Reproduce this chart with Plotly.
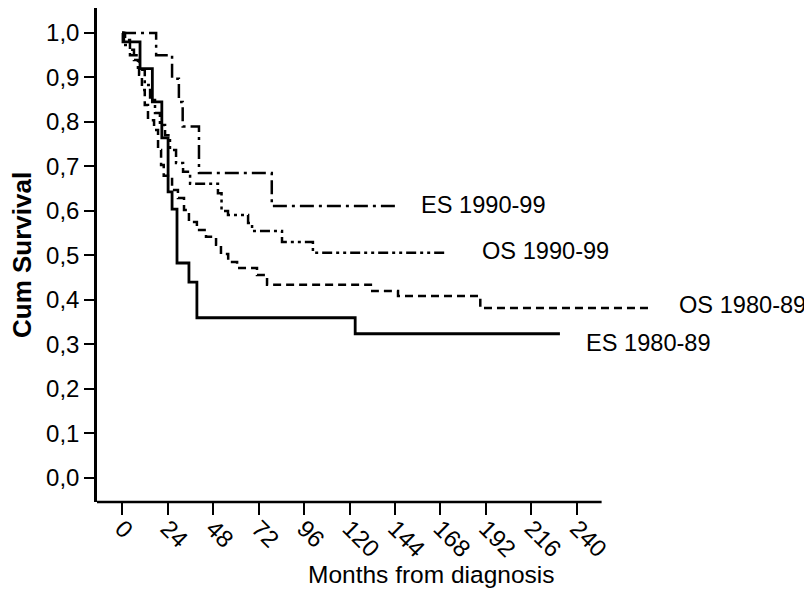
import plotly.graph_objects as go

# ---- data (months, cumulative survival) ----
es8089_t = [0, 0.5, 9.5, 16, 21, 24.3, 26.4, 29, 35.3, 39.5, 123, 231]
es8089_s = [1.0, 0.98, 0.92, 0.845, 0.764, 0.643, 0.604, 0.483, 0.44, 0.36, 0.324, 0.324]

es9099_t = [0, 18, 26.4, 30, 32, 40.6, 79, 145]
es9099_s = [1.0, 0.95, 0.897, 0.845, 0.79, 0.685, 0.611, 0.611]

os9099_t = [0, 1, 4.2, 8.4, 12, 14.8, 17.4, 20, 22.7, 25.3, 28.5, 32.2, 35.9,
            50.6, 52.5, 55.9, 66.5, 68.6, 84.4, 100.7, 171]
os9099_s = [1.0, 0.973, 0.95, 0.917, 0.883, 0.849, 0.82, 0.793, 0.77, 0.737, 0.708, 0.688, 0.661,
            0.64, 0.60, 0.591, 0.573, 0.555, 0.53, 0.506, 0.506]

os8089_t = [0, 1.6, 4.2, 6.3, 9, 10.5, 12, 13.7, 16.9, 19, 20.6, 22, 26.4, 29.5, 32.7, 35.3,
            39.5, 44.3, 49.6, 52.2, 56, 60.7, 71.2, 76.5, 132, 145.6, 189, 278]
os8089_s = [1.0, 0.984, 0.962, 0.939, 0.906, 0.872, 0.838, 0.804, 0.782, 0.737, 0.703, 0.679,
            0.647, 0.629, 0.602, 0.575, 0.557, 0.542, 0.524, 0.503, 0.485, 0.472, 0.456, 0.434,
            0.42, 0.409, 0.382, 0.382]

x_ticks = [0, 24, 48, 72, 96, 120, 144, 168, 192, 216, 240]
y_ticks = [0.0, 0.1, 0.2, 0.3, 0.4, 0.5, 0.6, 0.7, 0.8, 0.9, 1.0]
y_tick_text = ["0,0", "0,1", "0,2", "0,3", "0,4", "0,5", "0,6", "0,7", "0,8", "0,9", "1,0"]

series = [
    ("ES 1990-99", es9099_t, es9099_s, "14px,5px,3px,5px", 2.5),
    ("OS 1990-99", os9099_t, os9099_s, "10px,4px,3px,4px,3px,4px", 2.5),
    ("OS 1980-89", os8089_t, os8089_s, "8px,5px", 2.5),
    ("ES 1980-89", es8089_t, es8089_s, "solid", 2.8),
]

FONT = "Liberation Sans, Arial, sans-serif"
FS = 24

fig = go.Figure()
for name, t, s, dash, w in series:
    fig.add_trace(go.Scatter(x=t, y=s, mode="lines", name=name,
                             line=dict(color="black", width=w, dash=dash, shape="hv"),
                             showlegend=False, cliponaxis=False))

# page has an 8px body margin, so the figure is 804x584 and shifted accordingly
fig.update_layout(
    width=804, height=584,
    margin=dict(l=89, r=152, t=0, b=90, autoexpand=False),
    paper_bgcolor="white", plot_bgcolor="white",
    font=dict(family=FONT, size=FS, color="black"),
    xaxis=dict(range=[-13.2, 283.8], tickvals=x_ticks, ticktext=[str(v) for v in x_ticks],
               tickangle=45, ticks="outside", ticklen=12, tickwidth=2, tickcolor="black",
               ticklabelstandoff=-10,
               showline=False, showgrid=False, zeroline=False, automargin=False,
               tickfont=dict(size=FS)),
    yaxis=dict(range=[-0.054, 1.056], tickvals=y_ticks, ticktext=y_tick_text,
               ticks="outside", ticklen=10, tickwidth=2, tickcolor="black",
               showline=True, linewidth=2.5, linecolor="black", automargin=False,
               showgrid=False, zeroline=False, tickfont=dict(size=FS)),
)

# x axis line only up to the end of the scale
fig.add_shape(type="line", xref="x", yref="paper", x0=-13.2, x1=253, y0=0, y1=0,
              line=dict(color="black", width=2.5))

# series labels (paper coordinates: plot area spans 97..660 px, 8..502 px on the page)
labels = [
    ("ES 1990-99", 419, 205),
    ("OS 1990-99", 480, 251),
    ("OS 1980-89", 677, 305),
    ("ES 1980-89", 584, 343),
]
for txt, px, py in labels:
    fig.add_annotation(x=(px - 97) / 563, y=(502 - py) / 494, xref="paper", yref="paper",
                       text=txt, showarrow=False, xanchor="left", yanchor="middle",
                       font=dict(size=23.6))

fig.add_annotation(x=(22 - 97) / 563, y=(502 - 255) / 494, xref="paper", yref="paper",
                   text="<b>Cum Survival</b>", textangle=-90, showarrow=False,
                   xanchor="center", yanchor="middle", font=dict(size=26))
fig.add_annotation(x=(431 - 97) / 563, y=(502 - 574) / 494, xref="paper", yref="paper",
                   text="Months from diagnosis", showarrow=False,
                   xanchor="center", yanchor="middle", font=dict(size=24.5))

fig.write_html("out.html")
